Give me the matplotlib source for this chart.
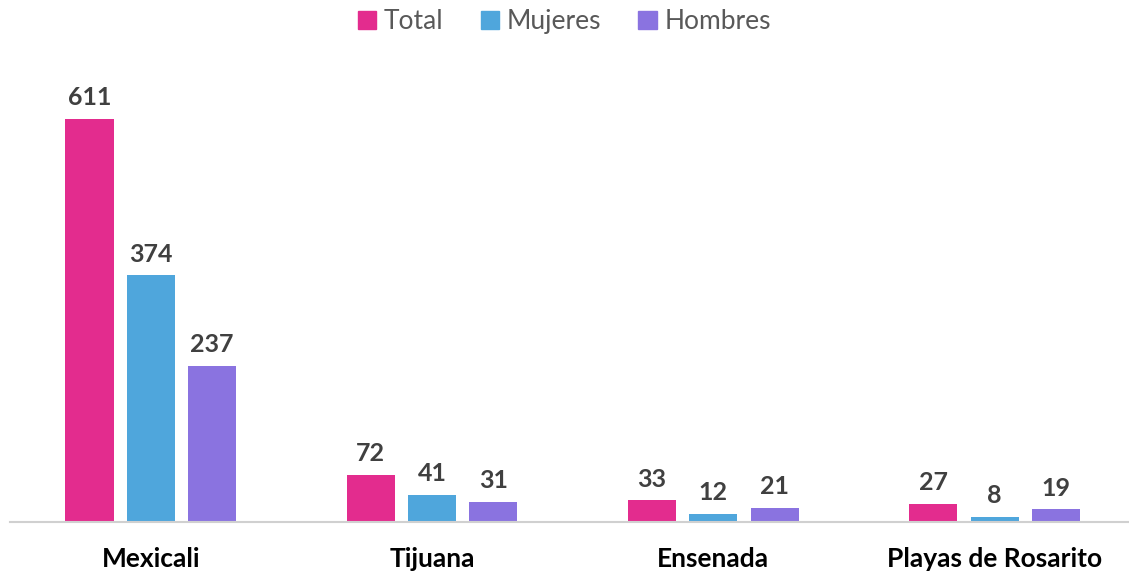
import numpy as np
import matplotlib.pyplot as plt
from matplotlib.patches import Patch

plt.rcParams['font.family'] = ['Lato', 'DejaVu Sans']

municipios = ["Mexicali", "Tijuana", "Ensenada", "Playas de Rosarito"]
total = [611, 72, 33, 27]
mujeres = [374, 41, 12, 8]
hombres = [237, 31, 21, 19]

series = ["Total", "Mujeres", "Hombres"]
colores = ["#E32C8E", "#4FA6DC", "#8A73E0"]

fig = plt.figure(figsize=(11.29, 5.74), dpi=100)
ax = fig.add_axes([0.009, 0.0906, 0.9965, 0.787])

x = np.arange(len(municipios))
ancho = 0.171
paso = 0.218

for k, (valores, color) in enumerate(zip([total, mujeres, hombres], colores)):
    barras = ax.bar(x + (k - 1) * paso, valores, width=ancho, color=color)
    for b, v in zip(barras, valores):
        ax.annotate(str(v), (b.get_x() + b.get_width() / 2, v),
                    xytext=(0, 7), textcoords="offset points",
                    ha="center", va="bottom", fontsize=18,
                    fontweight="bold", color="#404040")

ax.set_xlim(-0.5, len(municipios) - 0.5)
ax.set_ylim(0, 685)
ax.set_xticks(x)
ax.set_xticklabels(municipios, fontsize=19, fontweight="bold", color="black")
ax.tick_params(axis="x", length=0, pad=18)
ax.set_yticks([])
for lado in ["top", "right", "left"]:
    ax.spines[lado].set_visible(False)
ax.spines["bottom"].set_color("#D0D0D0")
ax.spines["bottom"].set_linewidth(1.5)

handles = [Patch(color=c, label=s) for s, c in zip(series, colores)]
fig.legend(handles=handles, loc="upper center", bbox_to_anchor=(0.5, 1.025),
           ncol=3, frameon=False, fontsize=19, handlelength=0.7,
           handleheight=0.7, handletextpad=0.3, columnspacing=1.4,
           labelcolor="#595959")

plt.savefig("out.png", dpi=100)
plt.close()
